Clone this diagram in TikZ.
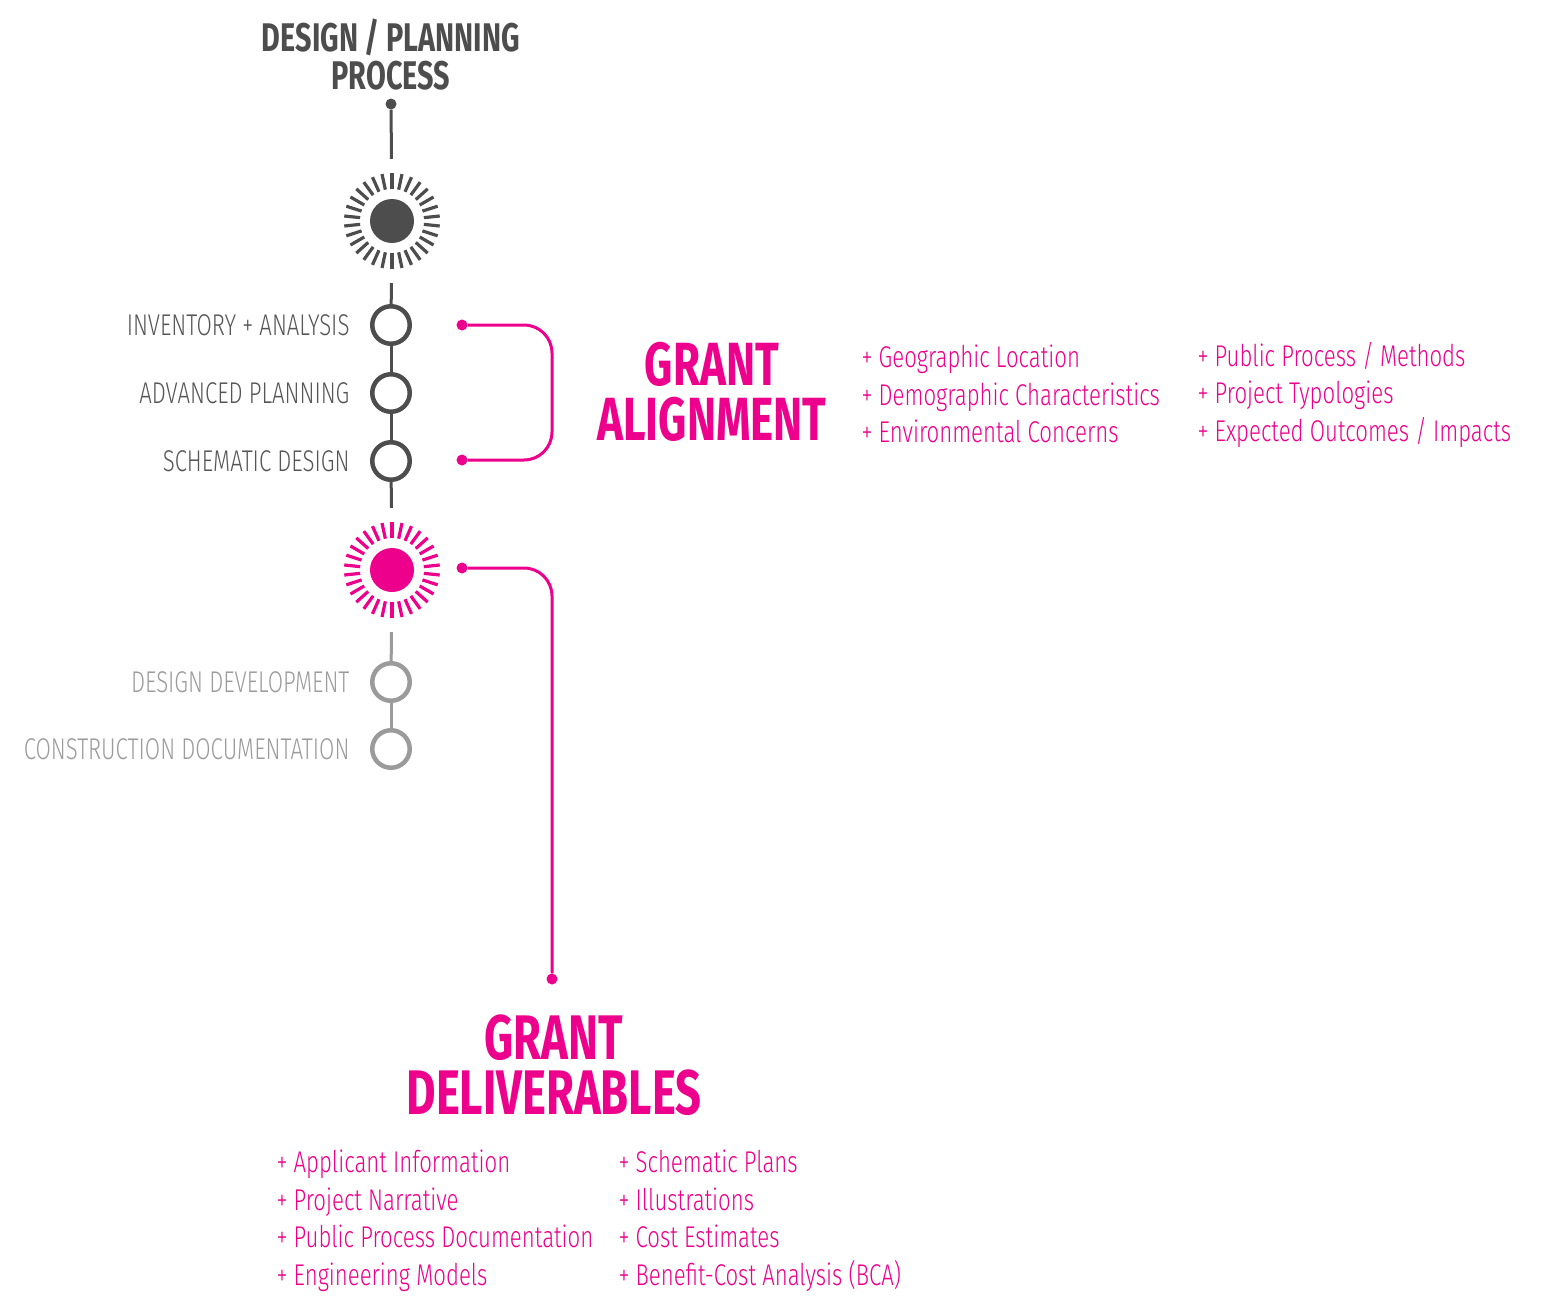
\documentclass[tikz,border=0pt]{standalone}
\usepackage{fontspec}
\setmainfont{Fira Sans}[FakeStretch=0.73]
\newfontfamily\thinfont{Fira Sans Light}[FakeStretch=0.74]
\newfontfamily\headfont{Fira Sans}[FakeStretch=0.72]
\usetikzlibrary{positioning}
\definecolor{inkgray}{HTML}{4D4D4D}
\definecolor{labelgray}{HTML}{555555}
\definecolor{palegray}{HTML}{9B9B9B}
\definecolor{grantpink}{HTML}{EC008C}
\tikzset{
  spine/.style={draw=inkgray, line width=3pt},
  palespine/.style={draw=palegray, line width=3pt},
  pinkline/.style={draw=grantpink, line width=3pt, rounded corners=28pt},
  stage/.style={circle, draw=inkgray, line width=4.5pt, minimum size=37.5pt, inner sep=0pt},
  palestage/.style={stage, draw=palegray},
  sunburst/.style={circle, minimum size=124pt, inner sep=0pt},
  enddot/.style={circle, fill=#1, minimum size=11pt, inner sep=0pt},
  stagelabel/.style={anchor=east, text=labelgray, font=\thinfont\fontsize{30}{36}\selectfont},
  palelabel/.style={stagelabel, text=palegray},
  granthead/.style={align=center, text=grantpink, font=\headfont\bfseries\fontsize{61}{55}\selectfont},
  grantlist/.style={anchor=west, align=left, text=grantpink, font=\thinfont\fontsize{30}{37.5}\selectfont}
}
\begin{document}
\begin{tikzpicture}[x=1pt,y=-1pt]
  \path[use as bounding box] (0,0) rectangle (1548,1301);

  \node[align=center, text=inkgray, font=\headfont\bfseries\fontsize{40}{38}\selectfont] (title) at (391,55)
    {DESIGN / PLANNING\\PROCESS};
  \node[enddot=inkgray] (topdot) at (391,104) {};

  \node[sunburst] (sunA) at (392,221) {};
  \node[stage] (inv) at (391,325) {};
  \node[stage] (adv) at (391,393) {};
  \node[stage] (sch) at (391,461) {};
  \node[sunburst] (sunB) at (392,570) {};
  \node[palestage] (dev) at (391,682) {};
  \node[palestage] (con) at (391,749) {};

  % rays round the two milestones
  \foreach \s/\c in {sunA/inkgray, sunB/grantpink} {
    \fill[\c] (\s.center) circle (22pt);
    \foreach \a in {90,102,...,438}
      \draw[\c, line width=3.2pt] (\s.center) ++(\a:32pt) -- ++(\a:16pt);
  }

  \node[stagelabel, left=17pt of inv] (invtext) {INVENTORY + ANALYSIS};
  \node[stagelabel, left=17pt of adv] (advtext) {ADVANCED PLANNING};
  \node[stagelabel, left=17pt of sch] (schtext) {SCHEMATIC DESIGN};
  \node[palelabel, left=17pt of dev] (devtext) {DESIGN DEVELOPMENT};
  \node[palelabel, left=17pt of con] (context) {CONSTRUCTION DOCUMENTATION};

  \draw[spine] (topdot) -- (sunA);
  \draw[spine] (sunA) -- (inv);
  \draw[spine] (inv) -- (adv);
  \draw[spine] (adv) -- (sch);
  \draw[spine] (sch) -- (sunB);
  \draw[palespine] (sunB) -- (dev);
  \draw[palespine] (dev) -- (con);

  % grant alignment bracket
  \node[enddot=grantpink] (ga1) at (462,325) {};
  \node[enddot=grantpink] (ga2) at (462,460) {};
  \coordinate (gaturn) at (552,392);
  \draw[pinkline] (ga1) -| (gaturn) |- (ga2);

  \node[granthead] (align) at (712,392) {GRANT\\ALIGNMENT};
  \node[grantlist] (alignA) at (858,394)
    {+ Geographic Location\\+ Demographic Characteristics\\+ Environmental Concerns};
  \node[grantlist] (alignB) at (1194,395)
    {+ Public Process / Methods\\+ Project Typologies\\+ Expected Outcomes / Impacts};

  % grant deliverables lead
  \node[enddot=grantpink] (gd1) at (462,568) {};
  \node[enddot=grantpink] (gd2) at (552,979) {};
  \draw[pinkline] (gd1) -| (gd2);

  \node[granthead, font=\headfont\bfseries\fontsize{63}{55}\selectfont] (deliver) at (554,1065) {GRANT\\DELIVERABLES};
  \node[grantlist] (deliverA) at (273,1221)
    {+ Applicant Information\\+ Project Narrative\\+ Public Process Documentation\\+ Engineering Models};
  \node[grantlist] (deliverB) at (615,1221)
    {+ Schematic Plans\\+ Illustrations\\+ Cost Estimates\\+ Benefit-Cost Analysis (BCA)};
\end{tikzpicture}
\end{document}
